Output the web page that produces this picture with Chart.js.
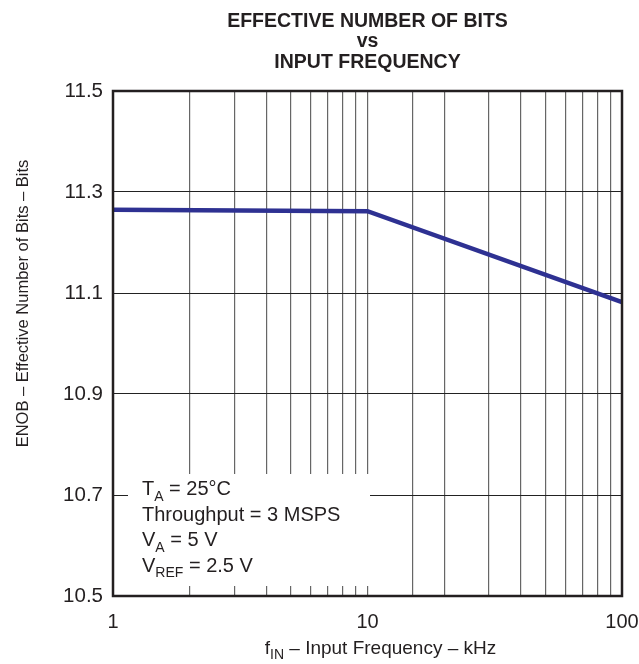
<!DOCTYPE html>
<html><head><meta charset="utf-8">
<script src="https://cdn.jsdelivr.net/npm/chart.js@4"></script>
<style>html,body{margin:0;padding:0;background:#fff}#c{display:block}</style>
</head><body>
<canvas id="c" width="639" height="664"></canvas>
<script>
const freqKHz = [1, 10, 100];
const enobBits = [11.265, 11.262, 11.082];
const xTickLabels = [1, 10, 100];
const yTickLabels = [10.5, 10.7, 10.9, 11.1, 11.3, 11.5];
const titleLines = ['EFFECTIVE NUMBER OF BITS', 'vs', 'INPUT FREQUENCY'];
const yTitle = 'ENOB \u2013 Effective Number of Bits \u2013 Bits';
const xTitle = [['f'], ['IN', 1], [' \u2013 Input Frequency \u2013 kHz']];
const conditions = [
  [['T'], ['A', 1], [' = 25\u00B0C']],
  [['Throughput = 3 MSPS']],
  [['V'], ['A', 1], [' = 5 V']],
  [['V'], ['REF', 1], [' = 2.5 V']]
];

const FONT = '"Liberation Sans", Arial, Helvetica, sans-serif';
const INK = '#231f20';

function richWidth(ctx, parts, size) {
  let w = 0;
  for (const p of parts) {
    ctx.font = (p[1] ? Math.round(size * 0.72) : size) + 'px ' + FONT;
    w += ctx.measureText(p[0]).width;
  }
  return w;
}
function drawRich(ctx, parts, x, y, size, align) {
  let w = richWidth(ctx, parts, size);
  let cx = align === 'center' ? x - w / 2 : x;
  ctx.textAlign = 'left';
  ctx.textBaseline = 'alphabetic';
  ctx.fillStyle = INK;
  for (const p of parts) {
    const sub = !!p[1];
    ctx.font = (sub ? Math.round(size * 0.72) : size) + 'px ' + FONT;
    ctx.fillText(p[0], cx, y + (sub ? size * 0.28 : 0));
    cx += ctx.measureText(p[0]).width;
  }
}

const decor = {
  id: 'decor',
  beforeDatasetsDraw(chart) {
    const { ctx, chartArea: a } = chart;
    ctx.save();
    ctx.fillStyle = '#fff';
    ctx.fillRect(a.left + 15, a.bottom - 122, 242, 112);
    conditions.forEach((line, i) => {
      drawRich(ctx, line, a.left + 29, a.bottom - 101 + i * 25.5, 20, 'left');
    });
    ctx.restore();
  },
  afterDraw(chart) {
    const { ctx, chartArea: a } = chart;
    ctx.save();
    ctx.strokeStyle = INK;
    ctx.lineWidth = 2.5;
    ctx.strokeRect(a.left, a.top, a.right - a.left, a.bottom - a.top);
    ctx.fillStyle = INK;
    ctx.textAlign = 'center';
    ctx.textBaseline = 'alphabetic';
    ctx.font = 'bold 19.5px ' + FONT;
    const cx = (a.left + a.right) / 2;
    ctx.fillText(titleLines[0], cx, 27);
    ctx.fillText(titleLines[1], cx, 47);
    ctx.fillText(titleLines[2], cx, 68);
    drawRich(ctx, xTitle, cx + 13, 654, 19, 'center');
    ctx.translate(23, (a.top + a.bottom) / 2 - 40);
    ctx.rotate(-Math.PI / 2);
    ctx.font = '16.5px ' + FONT;
    ctx.textAlign = 'center';
    ctx.textBaseline = 'middle';
    ctx.fillText(yTitle, 0, 0);
    ctx.restore();
  }
};

new Chart(document.getElementById('c'), {
  type: 'line',
  data: {
    datasets: [{
      data: freqKHz.map((x, i) => ({ x, y: enobBits[i] })),
      borderColor: '#2e3192',
      borderWidth: 4.5,
      pointRadius: 0,
      tension: 0,
      fill: false
    }]
  },
  options: {
    responsive: false,
    animation: false,
    layout: { padding: { top: 91, right: 17, left: 0, bottom: 0 } },
    plugins: { legend: { display: false }, tooltip: { enabled: false }, title: { display: false } },
    scales: {
      x: {
        type: 'logarithmic',
        min: 1, max: 100,
        afterFit: s => { s.height = 68; s.paddingLeft = 0; s.paddingRight = 0; },
        grid: { color: '#666', lineWidth: 1.2, drawTicks: false },
        border: { display: false },
        ticks: {
          autoSkip: false, maxRotation: 0, padding: 14,
          color: INK, font: { family: FONT, size: 20 },
          callback: v => xTickLabels.includes(v) ? String(v) : ''
        }
      },
      y: {
        min: 10.5, max: 11.5,
        afterFit: s => { s.width = 113; s.paddingTop = 0; s.paddingBottom = 0; },
        afterBuildTicks: s => { s.ticks = yTickLabels.map(v => ({ value: v })); },
        grid: { color: '#222', lineWidth: 1, drawTicks: false },
        border: { display: false },
        ticks: {
          padding: 10, color: INK, font: { family: FONT, size: 20.5 },
          callback: v => Number(v).toFixed(1)
        }
      }
    }
  },
  plugins: [decor]
});
</script>
</body></html>
